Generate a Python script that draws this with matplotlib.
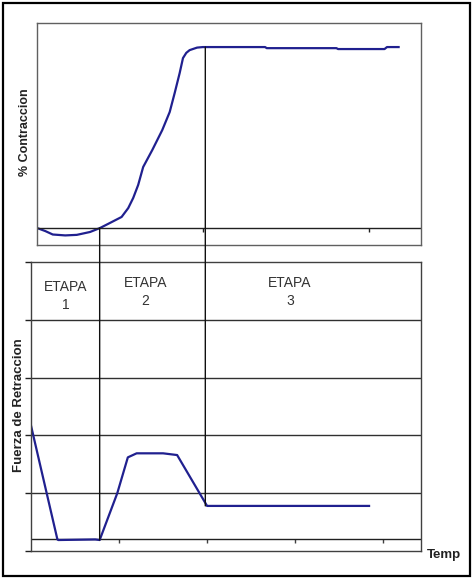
import matplotlib
matplotlib.use("Agg")
import matplotlib.pyplot as plt
from matplotlib.patches import ConnectionPatch, Rectangle
from matplotlib import transforms

plt.rcParams['font.family'] = ['Liberation Sans', 'DejaVu Sans']

# ---- data ----
# top panel: % contraccion vs time
top_x = [0, 0.1, 0.19, 0.34, 0.48, 0.64, 0.76, 0.88, 1.02, 1.10, 1.16, 1.22, 1.28,
         1.39, 1.51, 1.60, 1.66, 1.72, 1.76, 1.80, 1.84, 1.93, 2.0, 2.75, 2.77,
         3.61, 3.63, 4.19, 4.22, 4.36]
top_y = [0, -1.7, -3.6, -4.1, -3.8, -2.2, 0, 2.8, 6.1, 11.0, 16.6, 23.8, 33.7,
         43.1, 54.1, 64.1, 74.6, 85.6, 93.9, 96.8, 98.3, 99.7, 100, 100, 99.4,
         99.4, 98.9, 98.9, 100, 100]
# bottom panel: fuerza de retraccion vs time
bot_x = [0, 0.30, 0.31, 0.73, 0.78, 0.98, 1.10, 1.20, 1.50, 1.66, 2.0, 3.84]
bot_y = [2.17, 0.2, 0.19, 0.2, 0.19, 1.0, 1.62, 1.69, 1.69, 1.66, 0.78, 0.78]

stage_labels = ["ETAPA\n1", "ETAPA\n2", "ETAPA\n3"]
stage_label_x = [0.39, 1.30, 2.94]
stage_label_y = [4.41, 4.48, 4.48]
# stage boundaries: (x, y on top curve, y on bottom curve)
boundary_x = [0.78, 1.98]
boundary_top_y = [0, 100]
boundary_bot_y = [0.19, 0.78]

grid_levels = [1, 2, 3, 4]
bot_axis_level = 0.2
bot_ticks = [1, 2, 3, 4]
top_ticks = [2, 4]

W, H = 472, 583
fig = plt.figure(figsize=(W / 100, H / 100), dpi=100)
fig.patch.set_facecolor('white')

curve_color = '#20208f'
edge_gray = '#606060'

# ---- top axes ----
ax1 = fig.add_axes([37 / W, 1 - 245 / H, (421 - 37) / W, (245 - 23) / H])
t_ymin, t_ymax = -9.4, 113.3
ax1.set_xlim(0, 4.63)
ax1.set_ylim(t_ymin, t_ymax)
ax1.plot(top_x, top_y, color=curve_color, lw=1.6, solid_joinstyle='round')
ax1.axhline(0, color='#202020', lw=1.0)
ax1.set_xticks([])
ax1.set_yticks([])
for s in ax1.spines.values():
    s.set_color(edge_gray)
    s.set_linewidth(1.0)
sec1 = ax1.secondary_xaxis((0 - t_ymin) / (t_ymax - t_ymin))
sec1.set_xticks(top_ticks)
sec1.set_xticklabels([])
sec1.tick_params(direction='out', length=3, width=1, color='#202020')
sec1.spines['bottom'].set_visible(False)

# ---- bottom axes ----
ax2 = fig.add_axes([31 / W, 1 - 551 / H, (421 - 31) / W, (551 - 262) / H])
ax2.set_xlim(0, 4.43)
ax2.set_ylim(0, 5)
for g in grid_levels:
    ax2.axhline(g, color='#303030', lw=1.0)
ax2.axhline(bot_axis_level, color='#202020', lw=1.0)
ax2.plot(bot_x, bot_y, color=curve_color, lw=1.6, solid_joinstyle='round')
ax2.set_xticks([])
ax2.set_yticks([0, 1, 2, 3, 4, 5])
ax2.set_yticklabels([])
ax2.tick_params(axis='y', direction='out', length=4, width=1, color='#202020')
for s in ax2.spines.values():
    s.set_color('#404040')
    s.set_linewidth(1.0)
sec2 = ax2.secondary_xaxis(bot_axis_level / 5)
sec2.set_xticks(bot_ticks)
sec2.set_xticklabels([])
sec2.tick_params(direction='out', length=3, width=1, color='#404040')
sec2.spines['bottom'].set_visible(False)

for lab, x, y in zip(stage_labels, stage_label_x, stage_label_y):
    ax2.text(x, y, lab, ha='center', va='center', fontsize=10,
             color='#333333', linespacing=1.35)

# ---- stage boundary lines across both panels ----
trA = transforms.blended_transform_factory(ax2.transData, ax1.transData)
for bx, ty, by in zip(boundary_x, boundary_top_y, boundary_bot_y):
    con = ConnectionPatch(xyA=(bx, ty), coordsA=trA, xyB=(bx, by),
                          coordsB=ax2.transData, color='#101010', lw=1.0)
    fig.add_artist(con)

# ---- labels ----
fig.text(25 / W, 1 - 132 / H, "% Contraccion", rotation=90, ha='center',
         va='center', fontsize=9, fontweight='bold', color='#222222')
fig.text(19 / W, 1 - 405 / H, "Fuerza de Retraccion", rotation=90, ha='center',
         va='center', fontsize=9.5, fontweight='bold', color='#222222')
fig.text(444 / W, 1 - 555 / H, "Temp", ha='center', va='center',
         fontsize=9.5, fontweight='bold', color='#222222')

# outer frame
fig.add_artist(Rectangle((3 / W, 1 - 576 / H), (470 - 3) / W, (576 - 3) / H,
                         transform=fig.transFigure, fill=False,
                         edgecolor='black', lw=1.6))

fig.savefig('out.png', dpi=100, facecolor='white')
